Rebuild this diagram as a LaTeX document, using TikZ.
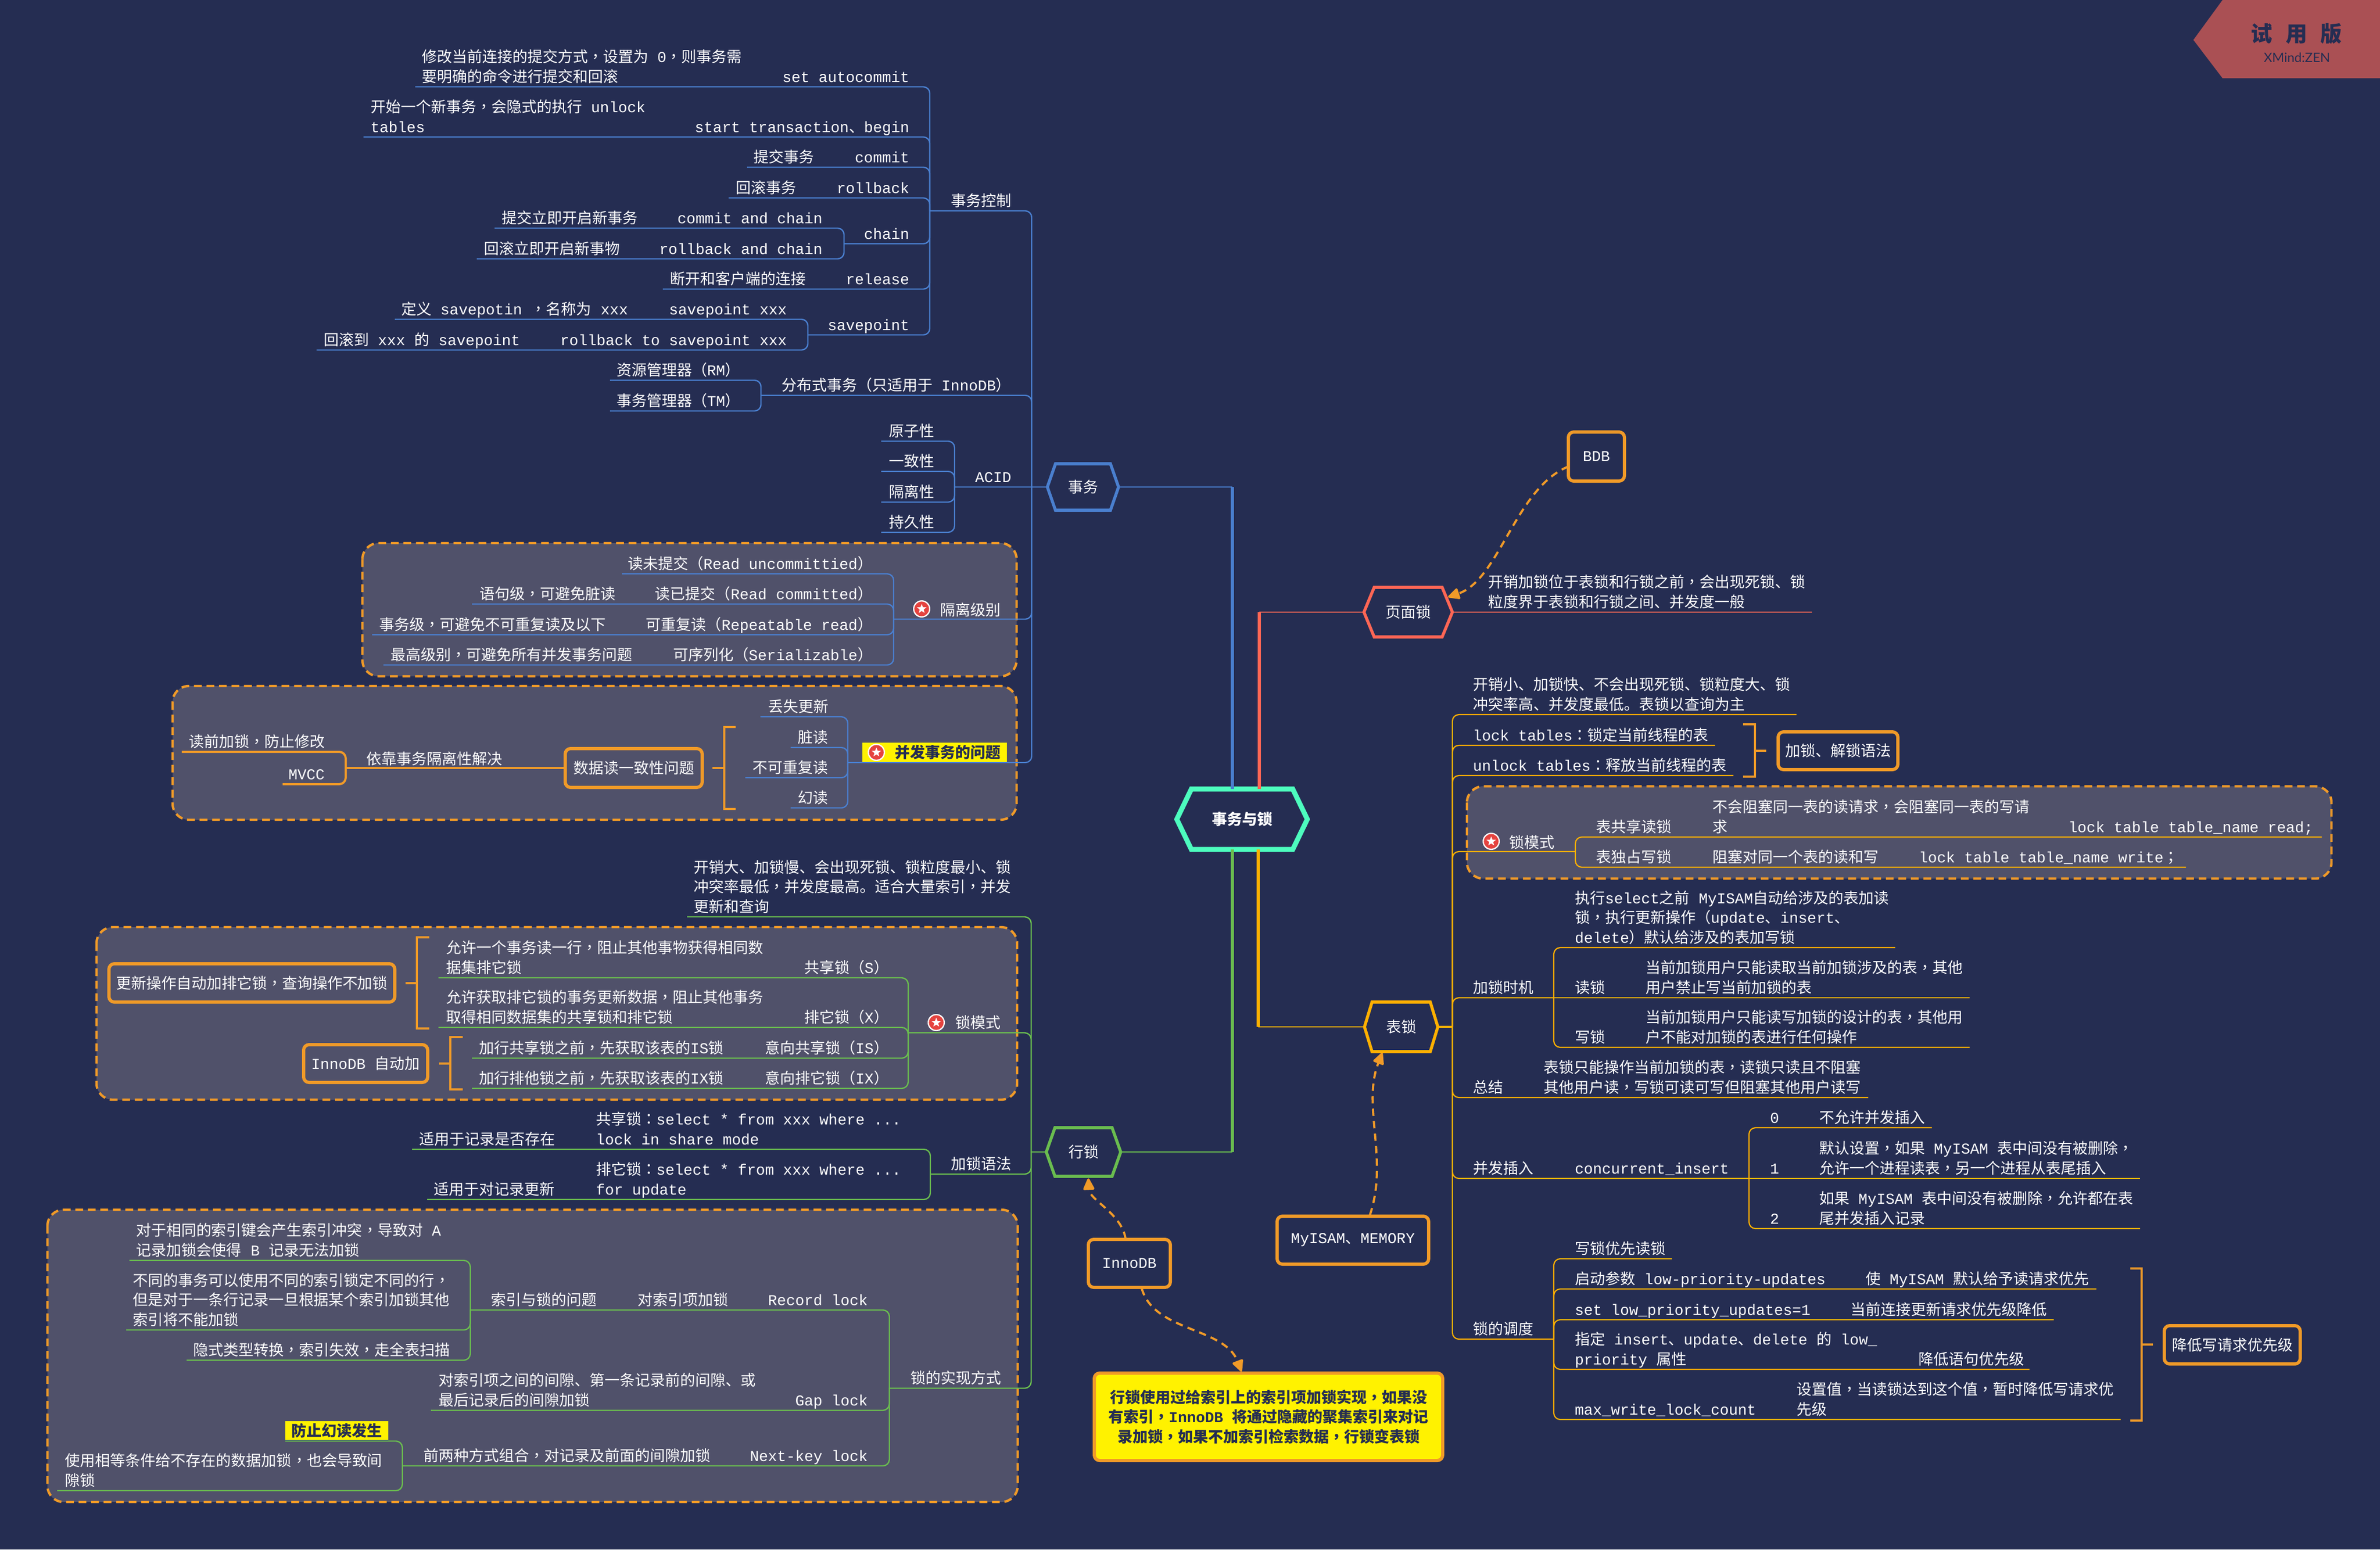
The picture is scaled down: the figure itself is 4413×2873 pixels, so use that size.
\documentclass[tikz,border=0pt]{standalone}
\usepackage{fontspec}
\usetikzlibrary{arrows.meta,shapes.geometric}
\newfontfamily\latinf{Liberation Mono}
\newfontfamily\cjkf[WordSpace=2.7]{Noto Sans CJK SC}
\newfontfamily\cjkp[WordSpace=2.7]{Noto Sans CJK TC}
\newfontfamily\badgef{Lato}
\newcount\ccl
\def\setcls#1#2{\ccl=#1\relax\loop\ifnum\ccl<#2\relax\XeTeXcharclass\ccl=1\relax\advance\ccl by 1\relax\repeat}
\setcls{"3000}{"3040}
\setcls{"3400}{"A000}
\setcls{"FF00}{"FFF0}
\XeTeXcharclass"FF08=2
\XeTeXcharclass"FF09=2
\XeTeXcharclass"FF0C=2
\XeTeXcharclass"FF1A=2
\XeTeXcharclass"FF1B=2
\XeTeXinterchartoks 0 1={\cjkf}
\XeTeXinterchartoks 4095 1={\cjkf}
\XeTeXinterchartoks 2 1={\cjkf}
\XeTeXinterchartoks 0 2={\cjkp}
\XeTeXinterchartoks 1 2={\cjkp}
\XeTeXinterchartoks 4095 2={\cjkp}
\XeTeXinterchartoks 1 0={\latinf}
\XeTeXinterchartoks 2 0={\latinf}
\XeTeXinterchartoks 4095 0={\latinf}
\definecolor{bgc}{HTML}{252D52}
\definecolor{panel}{HTML}{50516A}
\definecolor{org}{HTML}{F09A28}
\definecolor{blu}{HTML}{4A7FCF}
\definecolor{grn}{HTML}{6ABD4F}
\definecolor{redc}{HTML}{FF6655}
\definecolor{amb}{HTML}{FFB000}
\definecolor{teal}{HTML}{4DFCBE}
\definecolor{wm}{HTML}{AA5054}
\definecolor{starc}{HTML}{E5433F}
\tikzset{
  x=0.25pt,y=-0.25pt,
  txt/.style={font={\XeTeXinterchartokenstate=1 \fontsize{7}{9.1}\latinf},text=white,inner sep=0pt,outer sep=0pt},
  boldtxt/.style={txt,font={\XeTeXinterchartokenstate=1 \fontsize{7}{9.1}\bfseries\latinf},text=bgc},
  bl/.style={draw=blu,line width=0.6pt,rounded corners=3pt},
  gr/.style={draw=grn,line width=0.6pt,rounded corners=3pt},
  am/.style={draw=amb,line width=0.55pt,rounded corners=3pt},
  og/.style={draw=org,line width=1pt,rounded corners=3pt},
  panelbox/.style={draw=org,line width=1.1pt,fill=panel,rounded corners=7.5pt,dash pattern=on 3.6pt off 2.2pt},
  obox/.style={draw=org,line width=1.5pt,rounded corners=2.5pt},
  brk/.style={draw=org,line width=1pt},
  dasharrow/.style={draw=org,line width=1pt,dash pattern=on 3.4pt off 2.4pt,-{Stealth[length=6pt,width=5.5pt,inset=0pt,round]}},
  starbg/.style={circle,fill=white,draw=none,minimum size=8pt,inner sep=0pt},
  starfg/.style={star,star points=5,star point ratio=2.4,fill=white,draw=none,minimum size=4.6pt,inner sep=0pt},
}
\newcount\tn
\newcommand\W[3]{\global\advance\tn1 \node[txt,anchor=base west] (t\the\tn) at (#1,#2-9) {#3};}
\newcommand\E[3]{\global\advance\tn1 \node[txt,anchor=base east] (t\the\tn) at (#1,#2-9) {#3};}
\newcommand\LL[2]{\vbox{\baselineskip=9.1pt\hbox{#1}\hbox{#2}}}
\newcommand\LLL[3]{\vbox{\baselineskip=9.1pt\hbox{#1}\hbox{#2}\hbox{#3}}}
% child line: style, name of far end, far x, y, junction on the parent
\newcommand\kid[5]{\coordinate (#2) at (#3,#4); \draw[#1] (#2) -- (#5 |- #2) -- (#5);}
\newcommand\hexag[8]{%
  \begin{scope}[shift={(#2,#3)}]
    \draw[draw=#7,line width=#8,line join=miter] (-#4,0) -- (-#4+#5,-#6) -- (#4-#5,-#6) -- (#4,0) -- (#4-#5,#6) -- (-#4+#5,#6) -- cycle;
    \coordinate (#1L) at (-#4,0);
    \coordinate (#1R) at (#4,0);
  \end{scope}}
\newcommand\tbox[6]{\draw[obox] (#2,#3) rectangle (#4,#5);
  \node[txt] (#1) at ({(#2+#4)/2},{(#3+#5)/2}) {#6};}
\newcommand\starmark[3]{\node[starbg,fill=white] (#1o) at (#2,#3) {};
  \node[circle,fill=starc,minimum size=6.8pt,inner sep=0pt] (#1i) at (#2,#3) {};
  \node[starfg] (#1s) at (#2,#3) {};}
\begin{document}
\begin{tikzpicture}
\useasboundingbox (0,0) rectangle (4413,2873);
\fill[bgc] (0,0) rectangle (4413,2873);

% watermark
\fill[wm] (4121,0) -- (4067,74) -- (4121,145) -- (4413,145) -- (4413,0) -- cycle;
\node[txt,text=bgc,font={\fontsize{10}{12}\bfseries\cjkf}] (wmA) at (4258,63) {试 用 版};
\node[txt,text=bgc,font={\fontsize{6}{7}\badgef}] (wmB) at (4259,107) {XMind:ZEN};

% dashed panels
\draw[panelbox] (672,1007) rectangle (1885,1254);
\draw[panelbox] (320,1272) rectangle (1885,1520);
\draw[panelbox] (179,1719) rectangle (1886,2039);
\draw[panelbox] (88,2243) rectangle (1887,2785);
\draw[panelbox] (2720,1458) rectangle (4323,1629);

% main hexagons
\hexag{root}{2303}{1519}{121}{27}{56}{teal}{2.3pt}
\node[boldtxt,text=white] (rootT) at (2303,1519) {事务与锁};
\hexag{hxtx}{2008}{903}{66}{15}{43}{blu}{1.4pt}
\node[txt] (hxtxT) at (2008,903) {事务};
\hexag{hxpg}{2611}{1135}{82}{19}{46}{redc}{1.4pt}
\node[txt] (hxpgT) at (2611,1135) {页面锁};
\hexag{hxtab}{2598}{1904}{68}{14}{46}{amb}{1.4pt}
\node[txt] (hxtabT) at (2598,1904) {表锁};
\hexag{hxrow}{2009}{2136}{69}{16}{45}{grn}{1.4pt}
\node[txt] (hxrowT) at (2009,2136) {行锁};

% root connectors
\coordinate (rootBl) at (2285,1463);
\coordinate (rootRd) at (2335,1463);
\coordinate (rootAm) at (2333,1575);
\coordinate (rootGn) at (2285,1575);
\draw[draw=blu,line width=1.4pt] (rootBl) -- (rootBl |- hxtxR);
\draw[draw=blu,line width=0.7pt] (rootBl |- hxtxR) -- (hxtxR);
\draw[draw=redc,line width=1.4pt] (rootRd) -- (rootRd |- hxpgL);
\draw[draw=redc,line width=0.7pt] (rootRd |- hxpgL) -- (hxpgL);
\draw[draw=amb,line width=1.4pt] (rootAm) -- (rootAm |- hxtabL);
\draw[draw=amb,line width=0.7pt] (rootAm |- hxtabL) -- (hxtabL);
\draw[draw=grn,line width=1.4pt] (rootGn) -- (rootGn |- hxrowR);
\draw[draw=grn,line width=0.7pt] (rootGn |- hxrowR) -- (hxrowR);

%%%%%%%% transaction branch
\coordinate (jA) at (1913,903);
\coordinate (acid) at (1770,903);
\draw[draw=blu,line width=0.6pt] (acid) -- (hxtxL);
\W{1808}{903}{ACID}
\kid{bl}{ctl}{1724}{391}{jA}
\W{1763}{391}{事务控制}
\kid{bl}{kautoc}{770}{161}{ctl}
\W{782}{161}{\LL{修改当前连接的提交方式，设置为 0，则事务需}{要明确的命令进行提交和回滚}}
\E{1686}{161}{set autocommit}
\kid{bl}{kstart}{674}{254}{ctl}
\W{687}{254}{\LL{开始一个新事务，会隐式的执行 unlock}{tables}}
\E{1686}{254}{start transaction、begin}
\kid{bl}{kcommit}{1385}{310}{ctl}
\W{1397}{310}{提交事务}
\E{1686}{310}{commit}
\kid{bl}{kroll}{1351}{367}{ctl}
\W{1364}{367}{回滚事务}
\E{1686}{367}{rollback}
\kid{bl}{kchain}{1565}{452}{ctl}
\E{1686}{452}{chain}
\kid{bl}{kcc}{917}{423}{kchain}
\W{930}{423}{提交立即开启新事务}
\E{1525}{423}{commit and chain}
\kid{bl}{krc}{884}{480}{kchain}
\W{897}{480}{回滚立即开启新事物}
\E{1525}{480}{rollback and chain}
\kid{bl}{krel}{1229}{536}{ctl}
\W{1242}{536}{断开和客户端的连接}
\E{1686}{536}{release}
\kid{bl}{ksp}{1498}{621}{ctl}
\E{1686}{621}{savepoint}
\kid{bl}{ksp1}{732}{592}{ksp}
\W{744}{592}{定义 savepotin ，名称为 xxx}
\E{1459}{592}{savepoint xxx}
\kid{bl}{ksp2}{587}{649}{ksp}
\W{600}{649}{回滚到 xxx 的 savepoint}
\E{1459}{649}{rollback to savepoint xxx}
\kid{bl}{kdist}{1411}{733}{jA}
\W{1449}{733}{分布式事务（只适用于 InnoDB）}
\kid{bl}{krm}{1131}{705}{kdist}
\W{1143}{705}{资源管理器（RM）}
\kid{bl}{ktm}{1131}{762}{kdist}
\W{1143}{762}{事务管理器（TM）}
\kid{bl}{ka1}{1634}{818}{acid}
\W{1648}{818}{原子性}
\kid{bl}{ka2}{1634}{874}{acid}
\W{1648}{874}{一致性}
\kid{bl}{ka3}{1634}{931}{acid}
\W{1648}{931}{隔离性}
\kid{bl}{ka4}{1634}{987}{acid}
\W{1648}{987}{持久性}

% isolation levels
\kid{bl}{kiso}{1657}{1148}{jA}
\starmark{stA}{1709}{1129}
\W{1743}{1150}{隔离级别}
\kid{bl}{ki1}{1153}{1064}{kiso}
\E{1618}{1064}{读未提交（Read uncommittied）}
\kid{bl}{ki2}{875}{1120}{kiso}
\W{889}{1120}{语句级，可避免脏读}
\E{1618}{1120}{读已提交（Read committed）}
\kid{bl}{ki3}{690}{1177}{kiso}
\W{703}{1177}{事务级，可避免不可重复读及以下}
\E{1618}{1177}{可重复读（Repeatable read）}
\kid{bl}{ki4}{711}{1233}{kiso}
\W{724}{1233}{最高级别，可避免所有并发事务问题}
\E{1618}{1233}{可序列化（Serializable）}

% concurrency problems
\kid{bl}{kcon}{1572}{1414}{jA}
\fill[yellow] (1599,1377) rectangle (1867,1413);
\starmark{stB}{1625}{1395}
\node[boldtxt,anchor=base west] (tProb) at (1659,1405) {并发事务的问题};
\kid{bl}{kc1}{1410}{1329}{kcon}
\W{1424}{1329}{丢失更新}
\kid{bl}{kc2}{1466}{1386}{kcon}
\W{1479}{1386}{脏读}
\kid{bl}{kc3}{1382}{1442}{kcon}
\W{1395}{1442}{不可重复读}
\kid{bl}{kc4}{1466}{1498}{kcon}
\W{1479}{1498}{幻读}
\draw[brk] (1364,1348) -- (1343,1348) -- (1343,1500) -- (1364,1500) (1343,1424) -- (1321,1424);
\tbox{bxRead}{1048}{1388}{1302}{1460}{数据读一致性问题}
\coordinate (jMv) at (641,1424);
\draw[draw=org,line width=1pt] (jMv) -- (bxRead.west -| 1048,1424);
\W{679}{1426}{依靠事务隔离性解决}
\kid{og}{kmv1}{337}{1394}{jMv}
\W{350}{1394}{读前加锁，防止修改}
\kid{og}{kmv2}{524}{1454}{jMv}
\E{602}{1454}{MVCC}

%%%%%%%% row lock branch
\coordinate (jR) at (1912,2136);
\draw[draw=grn,line width=0.6pt] (jR) -- (hxrowL);
\kid{gr}{kopen}{1274}{1700}{jR}
\W{1286}{1700}{\LLL{开销大、加锁慢、会出现死锁、锁粒度最小、锁}{冲突率最低，并发度最高。适合大量索引，并发}{更新和查询}}
\kid{gr}{kmode}{1684}{1915}{jR}
\starmark{stC}{1736}{1896}
\W{1771}{1915}{锁模式}
\kid{gr}{km1}{813}{1813}{kmode}
\W{827}{1813}{\LL{允许一个事务读一行，阻止其他事物获得相同数}{据集排它锁}}
\E{1648}{1813}{共享锁（S）}
\kid{gr}{km2}{813}{1905}{kmode}
\W{827}{1905}{\LL{允许获取排它锁的事务更新数据，阻止其他事务}{取得相同数据集的共享锁和排它锁}}
\E{1648}{1905}{排它锁（X）}
\kid{gr}{km3}{875}{1962}{kmode}
\W{888}{1962}{加行共享锁之前，先获取该表的IS锁}
\E{1648}{1962}{意向共享锁（IS）}
\kid{gr}{km4}{875}{2018}{kmode}
\W{888}{2018}{加行排他锁之前，先获取该表的IX锁}
\E{1648}{2018}{意向排它锁（IX）}
\draw[brk] (796,1738) -- (773,1738) -- (773,1907) -- (796,1907) (773,1823) -- (752,1823);
\tbox{bxUpd}{202}{1787}{732}{1858}{更新操作自动加排它锁，查询操作不加锁}
\draw[brk] (858,1923) -- (835,1923) -- (835,2020) -- (858,2020) (835,1972) -- (814,1972);
\tbox{bxInno}{563}{1937}{793}{2007}{InnoDB 自动加}

\kid{gr}{ksyn}{1725}{2177}{jR}
\W{1763}{2177}{加锁语法}
\kid{gr}{ks1}{764}{2131}{ksyn}
\W{777}{2131}{适用于记录是否存在}
\W{1105}{2131}{\LL{共享锁：select * from xxx where ...}{lock in share mode}}
\kid{gr}{ks2}{792}{2224}{ksyn}
\W{804}{2224}{适用于对记录更新}
\W{1105}{2224}{\LL{排它锁：select * from xxx where ...}{for update}}

\kid{gr}{kimp}{1649}{2574}{jR}
\W{1688}{2574}{锁的实现方式}
\kid{gr}{krec}{872}{2429}{kimp}
\W{910}{2429}{索引与锁的问题}
\W{1182}{2429}{对索引项加锁}
\E{1609}{2429}{Record lock}
\kid{gr}{kr1}{240}{2337}{krec}
\W{252}{2337}{\LL{对于相同的索引键会产生索引冲突，导致对 A}{记录加锁会使得 B 记录无法加锁}}
\kid{gr}{kr2}{234}{2466}{krec}
\W{246}{2466}{\LLL{不同的事务可以使用不同的索引锁定不同的行，}{但是对于一条行记录一旦根据某个索引加锁其他}{索引将不能加锁}}
\kid{gr}{kr3}{346}{2522}{krec}
\W{358}{2522}{隐式类型转换，索引失效，走全表扫描}
\kid{gr}{kgap}{799}{2615}{kimp}
\W{813}{2615}{\LL{对索引项之间的间隙、第一条记录前的间隙、或}{最后记录后的间隙加锁}}
\E{1609}{2615}{Gap lock}
\kid{gr}{knk}{746}{2718}{kimp}
\W{785}{2718}{前两种方式组合，对记录及前面的间隙加锁}
\E{1609}{2718}{Next-key lock}
\kid{gr}{kn1}{529}{2672}{knk}
\fill[yellow] (529,2635) rectangle (720,2670);
\node[boldtxt] (tPhantom) at (624,2653) {防止幻读发生};
\kid{gr}{kn2}{106}{2764}{knk}
\W{121}{2764}{\LL{使用相等条件给不存在的数据加锁，也会导致间}{隙锁}}

%%%%%%%% page lock branch
\coordinate (pgEnd) at (3360,1135);
\draw[draw=redc,line width=0.6pt] (hxpgR) -- (pgEnd);
\W{2759}{1135}{\LL{开销加锁位于表锁和行锁之前，会出现死锁、锁}{粒度界于表锁和行锁之间、并发度一般}}
\tbox{bxBDB}{2908}{801}{3012}{892}{BDB}

%%%%%%%% table lock branch
\coordinate (jT) at (2693,1904);
\draw[draw=amb,line width=1pt] (hxtabR) -- (jT);
\kid{am}{kt1}{3331}{1325}{jT}
\W{2731}{1325}{\LL{开销小、加锁快、不会出现死锁、锁粒度大、锁}{冲突率高、并发度最低。表锁以查询为主}}
\kid{am}{kt2}{3180}{1382}{jT}
\W{2731}{1382}{lock tables：锁定当前线程的表}
\kid{am}{kt3}{3214}{1438}{jT}
\W{2731}{1438}{unlock tables：释放当前线程的表}
\draw[brk] (3232,1343) -- (3254,1343) -- (3254,1440) -- (3232,1440) (3254,1392) -- (3275,1392);
\tbox{bxLock}{3297}{1357}{3519}{1427}{加锁、解锁语法}
\kid{am}{ktm}{2921}{1579}{jT}
\starmark{stD}{2765}{1560}
\W{2798}{1581}{锁模式}
\kid{am}{ktm1}{4305}{1552}{ktm}
\W{2959}{1552}{表共享读锁}
\W{3175}{1552}{\LL{不会阻塞同一表的读请求，会阻塞同一表的写请}{求}}
\E{4289}{1552}{lock table table\_name read;}
\kid{am}{ktm2}{4053}{1608}{ktm}
\W{2959}{1608}{表独占写锁}
\W{3175}{1608}{阻塞对同一个表的读和写}
\W{3558}{1608}{lock table table\_name write；}
\kid{am}{kwhen}{2881}{1850}{jT}
\W{2731}{1850}{加锁时机}
\kid{am}{kw1}{3514}{1757}{kwhen}
\W{2920}{1757}{\LLL{执行select之前 MyISAM自动给涉及的表加读}{锁，执行更新操作（update、insert、}{delete）默认给涉及的表加写锁}}
\coordinate (kw2) at (3652,1850);
\draw[am] (kwhen) -- (kw2);
\W{2920}{1850}{读锁}
\W{3051}{1850}{\LL{当前加锁用户只能读取当前加锁涉及的表，其他}{用户禁止写当前加锁的表}}
\kid{am}{kw3}{3652}{1942}{kwhen}
\W{2920}{1942}{写锁}
\W{3051}{1942}{\LL{当前加锁用户只能读写加锁的设计的表，其他用}{户不能对加锁的表进行任何操作}}
\kid{am}{ksum}{3464}{2035}{jT}
\W{2731}{2035}{总结}
\W{2862}{2035}{\LL{表锁只能操作当前加锁的表，读锁只读且不阻塞}{其他用户读，写锁可读可写但阻塞其他用户读写}}
\kid{am}{kins}{3243}{2185}{jT}
\W{2731}{2185}{并发插入}
\W{2920}{2185}{concurrent\_insert}
\kid{am}{ki0}{3582}{2091}{kins}
\W{3282}{2091}{0}
\W{3373}{2091}{不允许并发插入}
\coordinate (kiA) at (3968,2185);
\draw[am] (kins) -- (kiA);
\W{3282}{2185}{1}
\W{3373}{2185}{\LL{默认设置，如果 MyISAM 表中间没有被删除，}{允许一个进程读表，另一个进程从表尾插入}}
\kid{am}{kiB}{3968}{2278}{kins}
\W{3282}{2278}{2}
\W{3373}{2278}{\LL{如果 MyISAM 表中间没有被删除，允许都在表}{尾并发插入记录}}
\kid{am}{ksch}{2881}{2483}{jT}
\W{2731}{2483}{锁的调度}
\kid{am}{ks0}{3100}{2334}{ksch}
\W{2920}{2334}{写锁优先读锁}
\kid{am}{ks1a}{3887}{2390}{ksch}
\W{2920}{2390}{启动参数 low-priority-updates}
\W{3459}{2390}{使 MyISAM 默认给予读请求优先}
\kid{am}{ks2a}{3808}{2447}{ksch}
\W{2920}{2447}{set low\_priority\_updates=1}
\W{3431}{2447}{当前连接更新请求优先级降低}
\kid{am}{ks3a}{3763}{2539}{ksch}
\W{2920}{2539}{\LL{指定 insert、update、delete 的 low\_}{priority 属性}}
\W{3557}{2539}{降低语句优先级}
\kid{am}{ks4a}{3932}{2632}{ksch}
\W{2920}{2632}{max\_write\_lock\_count}
\W{3331}{2632}{\LL{设置值，当读锁达到这个值，暂时降低写请求优}{先级}}
\draw[brk] (3950,2352) -- (3971,2352) -- (3971,2634) -- (3950,2634) (3971,2493) -- (3992,2493);
\tbox{bxLow}{4013}{2458}{4265}{2529}{降低写请求优先级}

%%%%%%%% floating boxes
\tbox{bxInnoDB}{2018}{2298}{2170}{2387}{InnoDB}
\tbox{bxMy}{2368}{2255}{2649}{2344}{MyISAM、MEMORY}
\draw[obox,fill=yellow] (2029,2546) rectangle (2675,2708);
\node[boldtxt] (bxNote) at (2352,2627) {\vbox{\baselineskip=9.1pt\halign{\hfil#\hfil\cr 行锁使用过给索引上的索引项加锁实现，如果没\cr 有索引，InnoDB 将通过隐藏的聚集索引来对记\cr 录加锁，如果不加索引检索数据，行锁变表锁\cr}}};

\coordinate (aBDB) at (2908,865);
\coordinate (aPg) at (2685,1107);
\draw[dasharrow] (aBDB) .. controls (2810,905) and (2780,1075) .. (aPg);
\coordinate (aInT) at (2087,2297);
\coordinate (aRow) at (2018,2185);
\draw[dasharrow] (aInT) .. controls (2080,2250) and (2020,2225) .. (aRow);
\coordinate (aInB) at (2117,2389);
\coordinate (aNote) at (2302,2543);
\draw[dasharrow] (aInB) .. controls (2140,2470) and (2270,2460) .. (aNote);
\coordinate (aMy) at (2540,2253);
\coordinate (aTab) at (2563,1952);
\draw[dasharrow] (aMy) .. controls (2575,2150) and (2525,2050) .. (aTab);
\end{tikzpicture}
\end{document}
